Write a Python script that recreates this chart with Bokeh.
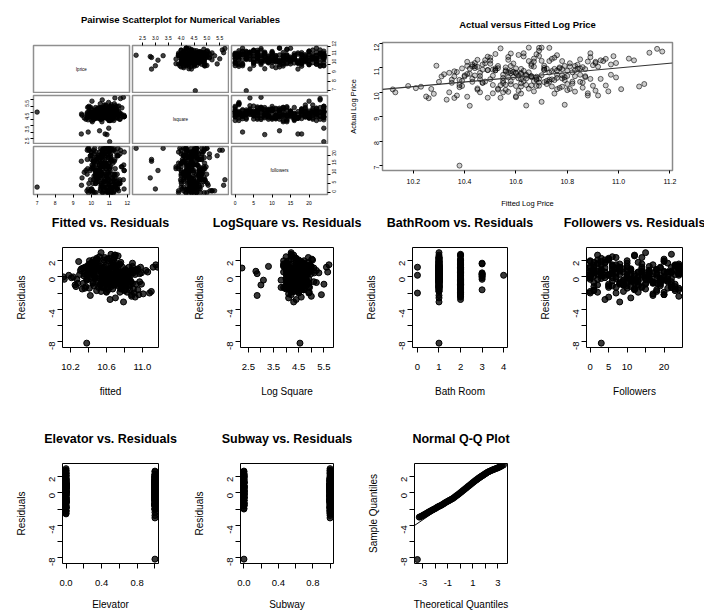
import math
from bokeh.plotting import figure
from bokeh.layouts import row, column
from bokeh.models import Range1d, LinearAxis, FixedTicker, PrintfTickFormatter, Label
from bokeh.embed import file_html
from bokeh.resources import INLINE

FONT = "Liberation Sans"

# ---------------- data (one row per listing; first row is the outlier) ----------------
fitted = [10.38,
    10.62, 10.45, 10.78, 10.55, 10.91, 10.33, 10.68, 10.74, 10.52, 10.86,
    10.41, 10.64, 10.97, 10.58, 10.27, 10.71, 10.83, 10.49, 10.66, 11.04,
    10.37, 10.59, 10.76, 10.44, 10.88, 10.61, 10.53, 10.72, 10.35, 10.95,
    10.69, 10.47, 10.81, 10.57, 10.23, 10.65, 10.79, 10.43, 10.92, 10.56,
    10.73, 10.31, 10.63, 10.85, 10.51, 11.08, 10.67, 10.39, 10.77, 10.54,
    10.46, 10.89, 10.60, 10.75, 10.36, 10.98, 10.48, 10.70, 10.82, 10.13,
    10.58, 10.42, 10.66, 10.87, 10.55, 10.29, 10.74, 10.62, 10.93, 10.50,
    10.68, 10.44, 10.80, 10.57, 11.12, 10.38, 10.71, 10.64, 10.84, 10.47,
    10.25, 10.60, 10.78, 10.52, 10.90, 10.66, 10.34, 10.73, 10.56, 11.01,
    10.45, 10.69, 10.83, 10.61, 10.40, 10.76, 10.53, 10.96, 10.65, 10.32,
    10.72, 10.49, 10.86, 10.59, 10.21, 10.67, 10.80, 10.43, 10.63, 11.06,
    10.54, 10.77, 10.38, 10.89, 10.58, 10.70, 10.46, 10.94, 10.62, 10.18,
    10.75, 10.51, 10.82, 10.41, 10.68, 11.15, 10.56, 10.36, 10.79, 10.64,
    10.48, 10.87, 10.60, 10.26, 10.73, 10.99, 10.53, 10.67, 10.44, 10.85,
    10.57, 10.71, 10.30, 10.91, 10.62, 10.78, 10.42, 11.10, 10.55, 10.69,
    10.50, 10.81, 10.12, 10.65, 10.76, 10.39, 10.88, 10.58, 11.17, 10.28,
    10.55, 10.68, 10.47, 10.81, 10.62, 10.39, 10.74, 10.58, 10.91, 10.51,
    10.66, 10.43, 10.79, 10.60, 10.85, 10.49, 10.71, 10.36, 10.64, 10.95,
    10.53, 10.77, 10.45, 10.69, 10.88, 10.57, 10.41, 10.73, 10.61, 10.83,
    10.50, 10.67, 10.34, 10.76, 10.59, 10.90, 10.46, 10.70, 10.63, 10.80,
    10.54, 10.42, 10.75, 10.65, 10.87, 10.52, 10.38, 10.72, 10.60, 10.97,
    10.48, 10.68, 10.56, 10.82, 10.44, 10.74, 10.62, 10.93, 10.51, 10.66,
    10.40, 10.78, 10.57, 10.86, 10.69, 10.46, 10.61, 10.75, 10.35, 10.84,
    10.55, 10.71, 10.49, 10.80, 10.64, 10.89, 10.43, 10.67, 10.58, 10.76,
    10.52, 10.92, 10.45, 10.70, 10.63, 10.83, 10.37, 10.73, 10.60, 10.99,
    10.50, 10.66, 10.78, 10.41, 10.85, 10.56, 10.69, 10.47, 10.79, 10.62]

resid = [-8.2,
    0.3, -0.8, 1.2, -0.2, 0.7, -1.5, 2.1, -0.5, 0.9, -1.1,
    1.6, 0.1, -0.6, 2.4, -0.3, 0.5, -1.9, 1.0, -0.1, 0.8,
    -1.2, 0.6, -0.4, 1.8, -2.2, 0.2, 1.3, -0.9, 0.4, -1.6,
    2.7, -0.2, 0.9, -1.3, 0.0, 1.5, -0.7, 0.3, -2.5, 1.1,
    -0.5, 0.8, 2.0, -1.0, 0.4, -2.0, 1.4, -0.3, 0.6, -1.8,
    0.2, 1.7, -0.8, 0.5, -1.4, 1.2, -0.1, 2.7, -1.1, -0.3,
    0.7, -2.3, 1.0, -0.6, 0.1, 1.9, -1.2, 0.4, -0.9, 2.2,
    -0.4, 1.3, -1.7, 0.6, 1.2, -0.2, 0.9, -2.8, 0.3, 1.6,
    -1.0, 0.5, -0.5, 2.5, -1.5, 0.0, 1.1, -0.7, 0.8, -2.1,
    1.4, -0.3, 0.2, -1.3, 0.7, 1.8, -0.9, -2.2, 0.4, 1.0,
    -0.6, 2.3, -1.6, 0.1, -0.1, 0.9, -1.1, 1.5, -0.4, 0.6,
    3.0, -1.4, 0.3, -0.8, 1.2, -2.6, 0.5, 0.8, -0.2, 0.2,
    -1.9, 1.0, 0.0, 2.0, -1.0, 1.5, -0.6, 0.7, -3.1, 0.2,
    1.7, -0.5, 0.4, -1.2, 2.6, -0.9, 1.1, -1.5, 0.6, -0.3,
    2.1, -0.7, 0.3, -2.0, 0.8, -1.3, 1.3, -1.8, -0.4, 1.9,
    0.1, -1.6, 0.0, 2.8, -0.1, 1.4, -2.4, 0.5, 1.2, -0.8,
    0.4, -0.3, 1.1, 0.6, -0.9, 0.2, 1.5, -0.6, 0.8, -1.3,
    0.0, 1.7, -0.4, 0.9, 0.3, -1.7, 0.7, 1.2, -0.2, 1.0,
    -1.0, 0.5, 2.1, -0.7, 0.9, 0.1, -1.4, 1.3, -0.1, 0.6,
    1.9, -0.5, -0.8, 0.3, 1.4, 0.5, -1.1, 0.0, 2.3, -0.3,
    -0.6, 0.8, 1.6, -1.2, 0.2, 1.1, -0.4, 0.6, -1.8, 0.4,
    2.0, -0.1, 0.7, -0.9, 1.5, 0.3, -1.6, 0.9, -0.5, 1.2,
    0.6, -0.2, 1.8, 0.4, -1.0, 0.8, 2.2, -0.6, 0.1, 0.7,
    -1.3, 0.5, 1.0, 0.2, -0.8, 1.3, 0.0, 1.7, -0.3, -1.5,
    0.9, 0.3, -0.7, 1.4, 0.6, -0.4, 1.1, 0.2, -1.9, 0.5,
    1.6, -0.9, 0.4, 0.8, 1.2, -1.1, 2.4, -0.2, 0.7, -0.6]

log_price = [7.00,
    10.75, 10.11, 11.28, 10.47, 11.20, 9.70, 11.56, 10.53, 10.90, 10.40,
    11.08, 10.68, 10.72, 11.59, 10.14, 10.92, 10.03, 10.91, 10.62, 11.38,
    9.87, 10.84, 10.59, 11.20, 9.96, 10.69, 11.08, 10.34, 10.52, 10.28,
    11.82, 10.39, 11.19, 10.02, 10.23, 11.28, 10.50, 10.56, 9.87, 11.02,
    10.52, 10.65, 11.47, 10.43, 10.68, 10.24, 11.26, 10.26, 11.02, 9.78,
    10.54, 11.60, 10.26, 10.96, 9.77, 11.48, 10.44, 11.83, 10.36, 10.00,
    10.87, 9.45, 11.08, 10.62, 10.59, 11.09, 10.24, 10.79, 10.55, 11.42,
    10.51, 10.99, 10.09, 10.82, 11.62, 10.30, 11.09, 9.46, 10.97, 11.14,
    9.83, 10.81, 10.57, 11.57, 10.27, 10.66, 10.80, 10.44, 10.90, 10.13,
    11.04, 10.56, 10.91, 10.06, 10.69, 11.52, 10.15, 10.04, 10.82, 10.74,
    10.47, 11.46, 10.19, 10.63, 10.17, 11.05, 10.34, 11.06, 10.46, 11.31,
    11.80, 10.18, 10.51, 10.55, 11.08, 9.61, 10.67, 11.28, 10.54, 10.26,
    9.95, 10.93, 10.82, 11.25, 10.26, 11.78, 10.31, 10.65, 9.49, 10.72,
    11.19, 10.66, 10.77, 9.76, 11.82, 10.61, 10.99, 10.04, 10.69, 10.72,
    11.45, 10.42, 10.43, 10.07, 10.96, 10.23, 10.97, 10.34, 10.38, 11.49,
    10.54, 10.14, 10.12, 11.83, 10.72, 10.98, 9.87, 10.79, 11.67, 9.94,
    10.72, 10.55, 10.93, 11.06, 10.24, 10.47, 11.37, 10.33, 11.25, 9.96,
    10.66, 11.14, 10.62, 10.98, 10.98, 9.78, 11.00, 10.86, 10.56, 11.37,
    10.11, 10.98, 11.33, 10.40, 11.26, 10.61, 9.82, 11.28, 10.57, 11.08,
    11.30, 10.46, 10.00, 10.89, 11.18, 11.11, 10.00, 10.70, 11.60, 10.67,
    10.29, 10.76, 11.42, 10.15, 10.95, 10.98, 10.21, 10.97, 9.84, 11.14,
    11.32, 10.64, 10.85, 10.44, 11.07, 10.87, 9.95, 11.31, 10.30, 11.16,
    10.65, 10.70, 11.33, 11.03, 10.27, 10.80, 11.53, 10.50, 10.39, 11.13,
    10.00, 10.92, 10.91, 10.88, 10.30, 11.44, 10.43, 11.38, 10.45, 10.13,
    10.90, 11.05, 10.16, 11.29, 10.88, 10.66, 10.83, 10.81, 9.80, 11.20,
    11.17, 10.28, 10.95, 10.75, 11.35, 10.10, 11.70, 10.39, 11.08, 10.37]

log_square = [4.55,
    4.4, 4.1, 4.7, 4.3, 4.9, 4.0, 4.5, 4.2, 4.6, 4.8,
    3.9, 4.4, 5.1, 4.3, 4.0, 4.6, 4.2, 4.5, 4.7, 4.1,
    4.9, 4.3, 3.8, 4.5, 4.2, 4.6, 5.0, 4.4, 4.1, 4.7,
    4.3, 4.8, 4.5, 3.9, 4.2, 4.4, 5.2, 4.0, 4.6, 2.25,
    4.3, 4.5, 4.1, 4.7, 4.4, 4.9, 4.2, 4.6, 3.9, 4.3,
    4.8, 4.0, 4.5, 5.3, 4.1, 4.4, 4.7, 4.2, 4.6, 4.3,
    2.8, 2.85, 4.0, 4.8, 4.3, 4.6, 4.1, 5.0, 4.4, 4.2,
    4.7, 3.9, 4.5, 4.3, 5.6, 4.1, 4.6, 4.4, 4.8, 4.2,
    3.0, 4.5, 4.3, 4.0, 4.7, 4.4, 5.1, 4.2, 4.6, 4.1,
    4.9, 4.3, 4.5, 3.8, 4.4, 4.6, 4.0, 5.4, 4.2, 4.7,
    4.4, 4.4, 4.6, 4.1, 4.3, 4.8, 4.5, 4.0, 3.1, 5.65,
    4.2, 4.5, 4.3, 4.9, 4.4, 4.1, 4.6, 5.2, 4.0, 4.3,
    4.5, 4.2, 4.7, 3.9, 4.4, 5.7, 4.1, 4.6, 4.3, 4.8,
    4.0, 4.5, 2.85, 4.4, 4.2, 5.5, 4.6, 4.3, 4.7, 4.1,
    4.4, 4.9, 4.2, 4.5, 4.0, 4.6, 3.3, 4.3, 4.8, 4.4,
    4.1, 4.7, 4.5, 4.2, 4.6, 3.9, 5.0, 4.3, 4.4, 4.5,
    4.35, 4.62, 4.18, 4.81, 4.47, 4.05, 4.72, 4.28, 4.55, 4.93,
    4.12, 4.66, 4.38, 4.84, 4.24, 4.51, 4.97, 4.09, 4.43, 4.76,
    4.31, 4.58, 5.05, 4.15, 4.69, 4.42, 3.95, 4.87, 4.26, 4.63,
    4.48, 4.02, 4.79, 4.34, 4.57, 5.12, 4.21, 4.68, 4.39, 4.91,
    4.14, 4.53, 4.74, 4.29, 4.61, 3.98, 4.45, 4.86, 4.19, 4.59,
    4.71, 4.36, 4.08, 4.64, 4.95, 4.23, 4.52, 4.41, 4.78, 4.11,
    4.56, 4.33, 4.89, 4.17, 4.67, 4.46, 5.02, 4.27, 4.73, 4.04,
    4.49, 4.82, 4.22, 4.60, 4.37, 4.99, 4.13, 4.70, 4.44, 4.54,
    4.30, 4.85, 4.06, 4.65, 4.40, 4.77, 4.20, 4.58, 4.92, 4.35,
    4.50, 4.16, 4.75, 4.32, 4.63, 4.01, 4.88, 4.46, 4.25, 4.69]

followers = [3,
    3, 17, 8, 22, 0, 12, 5, 19, 24, 10,
    14, 1, 21, 7, 16, 24, 2, 11, 18, 6,
    23, 9, 13, 4, 20, 15, 0, 8, 24, 12,
    2, 19, 6, 22, 10, 17, 1, 14, 5, 24,
    11, 3, 20, 9, 16, 7, 23, 0, 13, 18,
    4, 21, 15, 1, 10, 24, 6, 12, 19, 2,
    8, 17, 3, 22, 14, 0, 11, 24, 5, 20,
    9, 16, 1, 13, 23, 7, 18, 4, 10, 24,
    2, 15, 21, 6, 12, 0, 19, 8, 3, 17,
    24, 11, 5, 14, 22, 1, 9, 20, 16, 7,
    13, 3, 24, 10, 0, 18, 6, 23, 12, 4,
    15, 21, 2, 8, 19, 11, 24, 1, 16, 5,
    20, 9, 13, 0, 22, 7, 17, 3, 8, 24,
    10, 6, 18, 1, 12, 23, 4, 15, 14, 21,
    2, 19, 11, 0, 16, 5, 24, 9, 13, 20,
    3, 18, 7, 22, 10, 1, 24, 6, 14, 12,
    6, 15, 0, 21, 9, 18, 3, 12, 24, 7,
    16, 2, 20, 11, 5, 23, 14, 1, 19, 8,
    13, 22, 4, 17, 10, 0, 24, 6, 15, 20,
    3, 11, 18, 8, 23, 1, 13, 21, 5, 16,
    9, 24, 2, 14, 19, 7, 12, 22, 0, 17,
    10, 4, 20, 15, 6, 23, 1, 18, 11, 8,
    21, 3, 13, 24, 9, 16, 5, 19, 12, 2,
    22, 7, 14, 0, 18, 10, 20, 4, 15, 23,
    1, 12, 17, 6, 21, 9, 24, 3, 13, 16,
    8, 19, 0, 11, 22, 5, 14, 20, 2, 10]

bath_room = [1,
    1, 2, 0, 1, 2, 1, 1, 2, 1, 2,
    1, 1, 2, 1, 1, 3, 2, 1, 3, 2,
    1, 2, 1, 1, 2, 0, 1, 2, 1, 2,
    2, 1, 2, 1, 1, 1, 2, 3, 2, 1,
    1, 1, 2, 1, 2, 0, 1, 1, 2, 1,
    1, 3, 1, 2, 1, 2, 1, 1, 2, 1,
    1, 1, 2, 1, 3, 1, 2, 1, 2, 1,
    1, 1, 2, 1, 2, 1, 1, 2, 1, 3,
    1, 2, 1, 1, 2, 1, 1, 2, 1, 2,
    1, 3, 2, 1, 1, 2, 1, 2, 3, 1,
    1, 1, 2, 3, 1, 2, 1, 1, 2, 2,
    1, 2, 1, 2, 1, 1, 2, 1, 1, 1,
    2, 1, 2, 1, 1, 2, 1, 1, 1, 4,
    1, 2, 1, 1, 2, 2, 1, 2, 1, 2,
    2, 1, 1, 2, 1, 2, 1, 2, 1, 1,
    1, 3, 1, 2, 1, 1, 2, 1, 2, 1,
    1, 2, 1, 1, 2, 1, 2, 1, 1, 2,
    1, 1, 2, 1, 2, 1, 1, 2, 1, 2,
    2, 1, 1, 2, 1, 1, 2, 1, 2, 1,
    1, 2, 1, 1, 2, 1, 2, 1, 1, 2,
    1, 1, 2, 1, 2, 1, 1, 2, 1, 2,
    2, 1, 1, 2, 1, 3, 1, 2, 1, 1,
    1, 2, 1, 1, 2, 1, 2, 1, 1, 2,
    1, 1, 2, 1, 2, 1, 1, 2, 1, 1,
    2, 1, 1, 2, 1, 2, 1, 1, 2, 1,
    1, 2, 1, 1, 2, 1, 1, 2, 1, 2]

elevator = [1,
    1, 0, 1, 1, 0, 1, 0, 1, 1, 0,
    0, 1, 1, 0, 1, 1, 0, 1, 0, 1,
    1, 0, 1, 1, 0, 1, 0, 1, 1, 0,
    0, 1, 1, 0, 1, 0, 1, 1, 0, 1,
    1, 0, 1, 1, 0, 1, 1, 0, 1, 0,
    0, 1, 1, 0, 1, 0, 1, 1, 0, 1,
    1, 0, 1, 1, 0, 1, 0, 1, 1, 0,
    1, 1, 0, 1, 0, 1, 1, 1, 1, 1,
    0, 1, 1, 0, 1, 1, 0, 1, 0, 1,
    1, 0, 1, 1, 0, 1, 1, 0, 1, 0,
    0, 1, 1, 0, 1, 1, 0, 1, 1, 0,
    0, 1, 1, 0, 1, 0, 1, 1, 0, 1,
    1, 0, 1, 1, 0, 1, 1, 0, 1, 0,
    0, 1, 1, 0, 1, 1, 0, 1, 0, 1,
    1, 0, 1, 1, 0, 1, 1, 0, 1, 0,
    0, 1, 1, 0, 1, 0, 1, 1, 0, 1,
    0, 1, 1, 0, 1, 0, 1, 1, 0, 1,
    1, 0, 1, 1, 0, 1, 0, 1, 1, 0,
    0, 1, 0, 1, 1, 0, 1, 1, 0, 1,
    1, 0, 1, 0, 1, 1, 0, 1, 1, 0,
    0, 1, 1, 0, 1, 0, 1, 1, 0, 1,
    1, 0, 1, 1, 0, 1, 1, 0, 1, 0,
    0, 1, 0, 1, 1, 0, 1, 1, 0, 1,
    1, 0, 1, 1, 0, 1, 0, 1, 1, 0,
    0, 1, 1, 0, 1, 1, 0, 1, 0, 1,
    1, 0, 1, 0, 1, 1, 0, 1, 1, 0]

subway = [0,
    0, 1, 1, 0, 1, 1, 0, 1, 0, 1,
    1, 0, 1, 1, 0, 1, 1, 0, 1, 0,
    0, 1, 1, 0, 1, 1, 0, 1, 1, 0,
    1, 0, 1, 1, 0, 1, 1, 0, 1, 1,
    0, 1, 1, 0, 1, 1, 0, 1, 0, 1,
    1, 0, 1, 1, 0, 1, 1, 0, 1, 1,
    0, 1, 1, 0, 1, 1, 0, 1, 1, 0,
    1, 0, 1, 1, 0, 1, 1, 1, 1, 0,
    1, 1, 0, 1, 1, 0, 1, 0, 1, 1,
    0, 1, 1, 0, 1, 1, 0, 1, 0, 1,
    1, 0, 1, 1, 0, 1, 1, 0, 1, 1,
    1, 0, 1, 1, 0, 1, 0, 1, 1, 0,
    0, 1, 1, 0, 1, 1, 0, 1, 1, 0,
    1, 0, 1, 1, 0, 1, 1, 0, 1, 1,
    0, 1, 1, 0, 1, 1, 0, 1, 1, 0,
    1, 0, 1, 1, 0, 1, 1, 0, 1, 1,
    1, 0, 1, 1, 0, 1, 1, 0, 1, 0,
    0, 1, 1, 0, 1, 1, 0, 1, 0, 1,
    1, 1, 0, 1, 0, 1, 1, 0, 1, 1,
    0, 1, 1, 0, 1, 0, 1, 1, 0, 1,
    1, 0, 1, 1, 0, 1, 1, 0, 1, 1,
    0, 1, 1, 0, 1, 1, 0, 1, 1, 0,
    1, 0, 1, 1, 0, 1, 1, 0, 1, 0,
    0, 1, 1, 0, 1, 1, 0, 1, 1, 0,
    1, 1, 0, 1, 1, 0, 1, 0, 1, 1,
    0, 1, 1, 0, 1, 1, 0, 1, 0, 1]

qq_theoretical = [-3.45, -3.3, -3.2, -3.1, -3.0, -2.9, -2.8, -2.7, -2.6, -2.5, -2.4, -2.3, -2.2,
    -2.1, -2.0, -1.9, -1.8, -1.7, -1.6, -1.5, -1.4, -1.3, -1.2, -1.1, -1.0, -0.9, -0.8,
    -0.7, -0.6, -0.5, -0.4, -0.3, -0.2, -0.1, 0.0, 0.1, 0.2, 0.3, 0.4, 0.5, 0.6, 0.7,
    0.8, 0.9, 1.0, 1.1, 1.2, 1.3, 1.4, 1.5, 1.6, 1.7, 1.8, 1.9, 2.0, 2.1, 2.2, 2.3,
    2.4, 2.5, 2.6, 2.7, 2.8, 2.9, 3.0, 3.1, 3.2, 3.3, 3.45]
qq_sample = [-8.25, -3.0, -2.95, -2.86, -2.78, -2.69, -2.6, -2.51, -2.42, -2.33, -2.25, -2.16, -2.08,
    -2.0, -1.92, -1.82, -1.72, -1.65, -1.58, -1.49, -1.4, -1.3, -1.2, -1.11, -1.02, -0.94, -0.86,
    -0.77, -0.68, -0.57, -0.45, -0.33, -0.22, -0.1, 0.02, 0.15, 0.28, 0.4, 0.52, 0.65, 0.78, 0.9,
    1.02, 1.15, 1.28, 1.4, 1.52, 1.64, 1.76, 1.87, 1.98, 2.08, 2.18, 2.28, 2.38, 2.48, 2.58, 2.65,
    2.72, 2.79, 2.86, 2.92, 2.98, 3.04, 3.1, 3.17, 3.25, 3.33, 3.45]
qq_line_x = [-3.68, 3.78]
qq_line_y = [-4.03, 3.80]

fit_line_x = [10.08, 11.21]
fit_line_y = [10.12, 11.20]

pair_names = ["lprice", "lsquare", "followers"]

# axis ranges
R_RESID = (-8.74, 3.64)
R_FITTED = (10.11, 11.18)
R_LSQ = (2.19, 5.88)
R_BATH = (-0.23, 4.18)
R_FOLL = (-1.0, 25.0)
R_BIN = (-0.04, 1.04)
R_QQ = (-3.68, 3.78)
R_PRICE_PAIR = (6.8, 12.12)
R_LSQ_PAIR = (2.11, 5.84)
R_AVF_X = (10.08, 11.21)
R_AVF_Y = (6.8, 12.04)


def make_fig(w, h, l, r, t, b, xr, yr, title=None, outline="black", outline_w=1.0):
    p = figure(width=w, height=h, min_border_left=l, min_border_right=r,
               min_border_top=t, min_border_bottom=b,
               x_range=Range1d(*xr), y_range=Range1d(*yr),
               x_axis_location=None, y_axis_location=None,
               toolbar_location=None, output_backend="svg", title=title)
    p.outline_line_color = outline
    p.outline_line_width = outline_w
    p.background_fill_color = "white"
    p.border_fill_color = "white"
    p.xgrid.grid_line_color = None
    p.ygrid.grid_line_color = None
    return p


def style_title(p, size, standoff):
    p.title.align = "center"
    p.title.text_font = FONT
    p.title.text_font_style = "bold"
    p.title.text_font_size = size
    p.title.text_color = "black"
    p.title.standoff = standoff


def title_strip(text, w, l, r, h, size, standoff):
    s = make_fig(w, h, l, r, h - 1, 0, (0, 1), (0, 1), title=text, outline=None)
    style_title(s, size, standoff)
    return s


def add_axis(p, side, major, minor, fmt, tick_len, font_px, standoff, rotate=False,
             label=None, label_px=10, label_standoff=10):
    ax = LinearAxis(ticker=FixedTicker(ticks=major, minor_ticks=minor),
                    formatter=PrintfTickFormatter(format=fmt))
    ax.major_tick_out = tick_len
    ax.major_tick_in = 0
    ax.minor_tick_out = tick_len
    ax.minor_tick_in = 0
    ax.major_tick_line_color = "black"
    ax.minor_tick_line_color = "black"
    ax.axis_line_color = None
    ax.major_label_text_font = FONT
    ax.major_label_text_font_size = f"{font_px}px"
    ax.major_label_text_color = "black"
    ax.major_label_standoff = standoff
    if rotate:
        ax.major_label_orientation = math.pi / 2
    if label is not None:
        ax.axis_label = label
        ax.axis_label_text_font = FONT
        ax.axis_label_text_font_style = "normal"
        ax.axis_label_text_font_size = f"{label_px}px"
        ax.axis_label_text_color = "black"
        ax.axis_label_standoff = label_standoff
    p.add_layout(ax, side)
    return ax


# ---------------- pairs matrix ----------------
pairs_title = title_strip("Pairwise Scatterplot for Numerical Variables", 345, 15, 0, 32, "9.5px", 13)

pair_data = [log_price, log_square, followers]
pair_ranges = [R_PRICE_PAIR, R_LSQ_PAIR, R_FOLL]
col_geo = [(131, 33, 2), (98, 1, 1), (116, 2, 18)]
row_geo = [(61, 12, 1), (51, 2, 1), (66, 2, 16)]
pair_major = [[7, 8, 9, 10, 11, 12], [2.5, 3.0, 3.5, 4.0, 4.5, 5.0, 5.5], [0, 5, 10, 15, 20]]
pair_fmt = ["%d", "%.1f", "%d"]

pair_rows = []
for i in range(3):
    cells = []
    for j in range(3):
        w, l, r = col_geo[j]
        h, t, b = row_geo[i]
        c = make_fig(w, h, l, r, t, b, pair_ranges[j], pair_ranges[i],
                     outline="#8f8f8f", outline_w=1.5)
        if i == j:
            c.add_layout(Label(x=(pair_ranges[j][0] + pair_ranges[j][1]) / 2,
                               y=(pair_ranges[i][0] + pair_ranges[i][1]) / 2,
                               text=pair_names[i], text_align="center", text_baseline="middle",
                               text_font=FONT, text_font_size="4.5px", text_color="black"))
        else:
            c.scatter(pair_data[j], pair_data[i], marker="circle", size=4.5, line_color="black",
                      line_width=0.7, fill_color="black", fill_alpha=0.75)
        if i == 0 and j == 1:
            add_axis(c, "above", pair_major[1], [], "%.1f", 3, 5, 3)
        if i == 2 and j in (0, 2):
            add_axis(c, "below", pair_major[j], [], pair_fmt[j], 3, 5, 3)
        if i == 1 and j == 0:
            add_axis(c, "left", [2.5, 3.5, 4.5, 5.5], [3.0, 4.0, 5.0], "%.1f", 3, 5, 3, rotate=True)
        if j == 2 and i in (0, 2):
            add_axis(c, "right", pair_major[i], [], pair_fmt[i], 3, 5, 4, rotate=True)
        cells.append(c)
    pair_rows.append(row(*cells))
pairs_block = column(pairs_title, *pair_rows)

# ---------------- actual versus fitted ----------------
avf = make_fig(359, 210, 37, 32, 42, 40, R_AVF_X, R_AVF_Y,
               title="Actual versus Fitted Log Price", outline="#8a8a8a", outline_w=1.5)
style_title(avf, "9.5px", 26)
avf.scatter(fitted, log_price, marker="circle", size=5, line_color="black", line_alpha=0.65,
            line_width=0.9, fill_color="black", fill_alpha=0.2)
avf.line(fit_line_x, fit_line_y, line_color="#333333", line_width=1.2)
add_axis(avf, "below", [10.2, 10.4, 10.6, 10.8, 11.0, 11.2], [], "%.1f", 3, 7, 5,
         label="Fitted Log Price", label_px=7.5, label_standoff=12)
add_axis(avf, "left", [7, 8, 9, 10, 11, 12], [], "%d", 3, 7, 3, rotate=True,
         label="Actual Log Price", label_px=7.5, label_standoff=11)

top_row = row(pairs_block, avf)


# ---------------- residual panels ----------------
def resid_panel(title, xs, ys, xr, major, minor, fmt, xlabel, geo, sh, sstd, h, t, b,
                tick_std, lab_std, ylabel="Residuals", line=None):
    w, l, r = geo
    strip = title_strip(title, w, l, r, sh, "12.5px", sstd)
    p = make_fig(w, h, l, r, t, b, xr, R_RESID)
    if line is not None:
        p.line(line[0], line[1], line_color="black", line_width=1)
    p.scatter(xs, ys, marker="circle", size=6, line_color="black", line_width=1,
              fill_color="black", fill_alpha=0.78)
    add_axis(p, "below", major, minor, fmt, 5, 9.5, tick_std,
             label=xlabel, label_px=10, label_standoff=lab_std)
    add_axis(p, "left", [-8, -4, 0, 2], [-6, -2], "%d", 5, 9.5, 5, rotate=True,
             label=ylabel, label_px=10, label_standoff=17)
    return column(strip, p)


# middle row: strip 22 px (title centre at y=222), panel 168 px (frame 247..347)
MS, MSS, MH, MT, MB = 22, 4, 168, 15, 53
m1 = resid_panel("Fitted vs. Residuals", fitted, resid, R_FITTED, [10.2, 10.6, 11.0], [10.4, 10.8],
                 "%.1f", "fitted", (190, 62, 32), MS, MSS, MH, MT, MB, 11, 13)
m2 = resid_panel("LogSquare vs. Residuals", log_square, resid, R_LSQ, [2.5, 3.5, 4.5, 5.5],
                 [3.0, 4.0, 5.0], "%.1f", "Log Square", (172, 47, 29), MS, MSS, MH, MT, MB, 11, 13)
m3 = resid_panel("BathRoom vs. Residuals", bath_room, resid, R_BATH, [0, 1, 2, 3, 4], [],
                 "%d", "Bath Room", (174, 48, 29), MS, MSS, MH, MT, MB, 11, 13)
m4 = resid_panel("Followers vs. Residuals", followers, resid, R_FOLL, [0, 5, 10, 20], [15],
                 "%d", "Followers", (168, 49, 22), MS, MSS, MH, MT, MB, 11, 13)
mid_row = row(m1, m2, m3, m4)

# bottom row: strip 50 px (title centre at y=438), panel 162 px (frame 463..563)
BS, BSS, BH, BT, BB = 50, 8, 162, 13, 49
b1 = resid_panel("Elevator vs. Residuals", elevator, resid, R_BIN, [0.0, 0.4, 0.8], [0.2, 0.6, 1.0],
                 "%.1f", "Elevator", (190, 62, 32), BS, BSS, BH, BT, BB, 11, 10)
b2 = resid_panel("Subway vs. Residuals", subway, resid, R_BIN, [0.0, 0.4, 0.8], [0.2, 0.6, 1.0],
                 "%.1f", "Subway", (174, 47, 31), BS, BSS, BH, BT, BB, 11, 10)
b3 = resid_panel("Normal Q-Q Plot", qq_theoretical, qq_sample, R_QQ, [-3, -1, 1, 3], [-2, 0, 2],
                 "%d", "Theoretical Quantiles", (148, 48, 5), BS, BSS, BH, BT, BB, 11, 10,
                 ylabel="Sample Quantiles", line=(qq_line_x, qq_line_y))
bot_row = row(b1, b2, b3)

layout = column(top_row, mid_row, bot_row)

open("out.html", "w").write(file_html(layout, INLINE))
